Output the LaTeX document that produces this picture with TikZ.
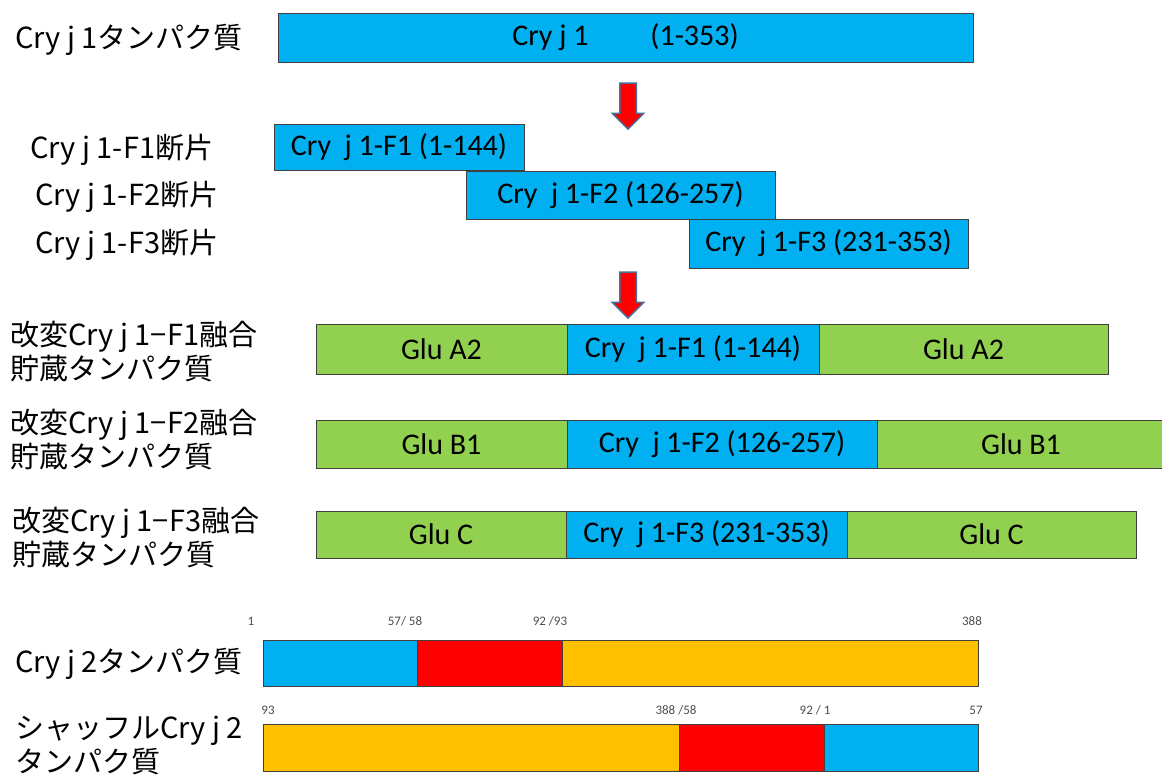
\documentclass[tikz,border=0pt]{standalone}
\usepackage{fontspec}
\setmainfont{Carlito}
\newfontfamily\jpfont{Noto Sans CJK JP}
\usetikzlibrary{positioning, shapes.arrows}
\definecolor{cryblue}{HTML}{00B0F0}
\definecolor{glugreen}{HTML}{92D050}
\definecolor{segred}{HTML}{FF0000}
\definecolor{segorange}{HTML}{FFC000}
\definecolor{arrowedge}{HTML}{41719C}
\tikzset{
    seg/.style={rectangle, draw=black!75, line width=0.8pt, outer sep=0pt, inner sep=0pt,
        minimum height=48pt, font=\fontsize{30}{32}\selectfont},
    cry/.style={seg, fill=cryblue},
    glu/.style={seg, fill=glugreen},
    redseg/.style={seg, fill=segred},
    orangeseg/.style={seg, fill=segorange},
    lbl/.style={font=\jpfont\fontsize{29}{34}\selectfont, align=left, inner sep=0pt},
    num/.style={font=\fontsize{13}{14}\selectfont, text=black!70, inner sep=0pt},
    downarrow/.style={single arrow, draw=arrowedge, line width=1.5pt, fill=segred,
        shape border rotate=270, inner sep=7.5pt,
        single arrow head extend=7.5pt, single arrow head indent=0pt, minimum height=46pt}
}
\begin{document}
\begin{tikzpicture}[x=1pt, y=-1pt]
    \useasboundingbox (0,0) rectangle (1162,783);

    % Cry j 1 protein
    \node[cry, minimum width=695pt, minimum height=49pt, anchor=north west] (Cj1) at (278,13) {Cry j 1\hspace{62pt}(1-353)};
    \node[lbl, anchor=west] (Cj1lbl) at (15,40) {Cry j 1タンパク質};

    \node[downarrow] (arr1) at (628,102) {};

    % Fragments
    \node[cry, minimum width=250pt, minimum height=46pt, anchor=north west] (F1) at (274,124) {Cry\ \ j 1-F1 (1-144)};
    \node[cry, minimum width=309pt, anchor=north west] (F2) at (466,171) {Cry\ \ j 1-F2 (126-257)};
    \node[cry, minimum width=279pt, minimum height=49pt, anchor=north west] (F3) at (689,219) {Cry\ \ j 1-F3 (231-353)};
    \node[lbl, anchor=west] (F1lbl) at (30,150) {Cry j 1-F1断片};
    \node[lbl, anchor=west] (F2lbl) at (35,197) {Cry j 1-F2断片};
    \node[lbl, anchor=west] (F3lbl) at (35,245) {Cry j 1-F3断片};

    \node[downarrow] (arr2) at (628,291) {};

    % Fused storage proteins
    \node[glu, minimum width=251pt, minimum height=50pt, anchor=north west] (GA2a) at (316,324) {Glu A2};
    \node[cry, minimum width=252pt, minimum height=50pt, right=0pt of GA2a] (F1fus) {Cry\ \ j 1-F1 (1-144)};
    \node[glu, minimum width=289pt, minimum height=50pt, right=0pt of F1fus] (GA2b) {Glu A2};
    \node[lbl, anchor=west] (fus1lbl) at (10,352) {改変Cry j 1−F1融合\\貯蔵タンパク質};

    \node[glu, minimum width=251pt, anchor=north west] (GB1a) at (316,420) {Glu B1};
    \node[cry, minimum width=310pt, right=0pt of GB1a] (F2fus) {Cry\ \ j 1-F2 (126-257)};
    \node[glu, minimum width=288pt, right=0pt of F2fus] (GB1b) {Glu B1};
    \node[lbl, anchor=west] (fus2lbl) at (10,440) {改変Cry j 1−F2融合\\貯蔵タンパク質};

    \node[glu, minimum width=250pt, minimum height=47pt, anchor=north west] (GCa) at (316,511) {Glu C};
    \node[cry, minimum width=281pt, minimum height=47pt, right=0pt of GCa] (F3fus) {Cry\ \ j 1-F3 (231-353)};
    \node[glu, minimum width=289pt, minimum height=47pt, right=0pt of F3fus] (GCb) {Glu C};
    \node[lbl, anchor=west] (fus3lbl) at (12,538) {改変Cry j 1−F3融合\\貯蔵タンパク質};

    % Cry j 2
    \node[cry, minimum width=154pt, minimum height=46pt, anchor=north west] (J2a) at (263,640) {};
    \node[redseg, minimum width=145pt, minimum height=46pt, right=0pt of J2a] (J2b) {};
    \node[orangeseg, minimum width=416pt, minimum height=46pt, right=0pt of J2b] (J2c) {};
    \node[lbl, anchor=west] (J2lbl) at (15,664) {Cry j 2タンパク質};
    \node[num] (n1) at (251,621) {1};
    \node[num] (n57) at (405,621) {57/ 58};
    \node[num] (n92) at (550,621) {92 /93};
    \node[num] (n388) at (972,621) {388};

    % Shuffled Cry j 2
    \node[orangeseg, minimum width=416pt, minimum height=47pt, anchor=north west] (S2a) at (263,724) {};
    \node[redseg, minimum width=145pt, minimum height=47pt, right=0pt of S2a] (S2b) {};
    \node[cry, minimum width=154pt, minimum height=47pt, right=0pt of S2b] (S2c) {};
    \node[lbl, anchor=west] (S2lbl) at (15,745) {シャッフルCry j 2\\タンパク質};
    \node[num] (s93) at (268,710) {93};
    \node[num] (s388) at (676,710) {388 /58};
    \node[num] (s92) at (815,710) {92 / 1};
    \node[num] (s57) at (976,710) {57};
\end{tikzpicture}
\end{document}
